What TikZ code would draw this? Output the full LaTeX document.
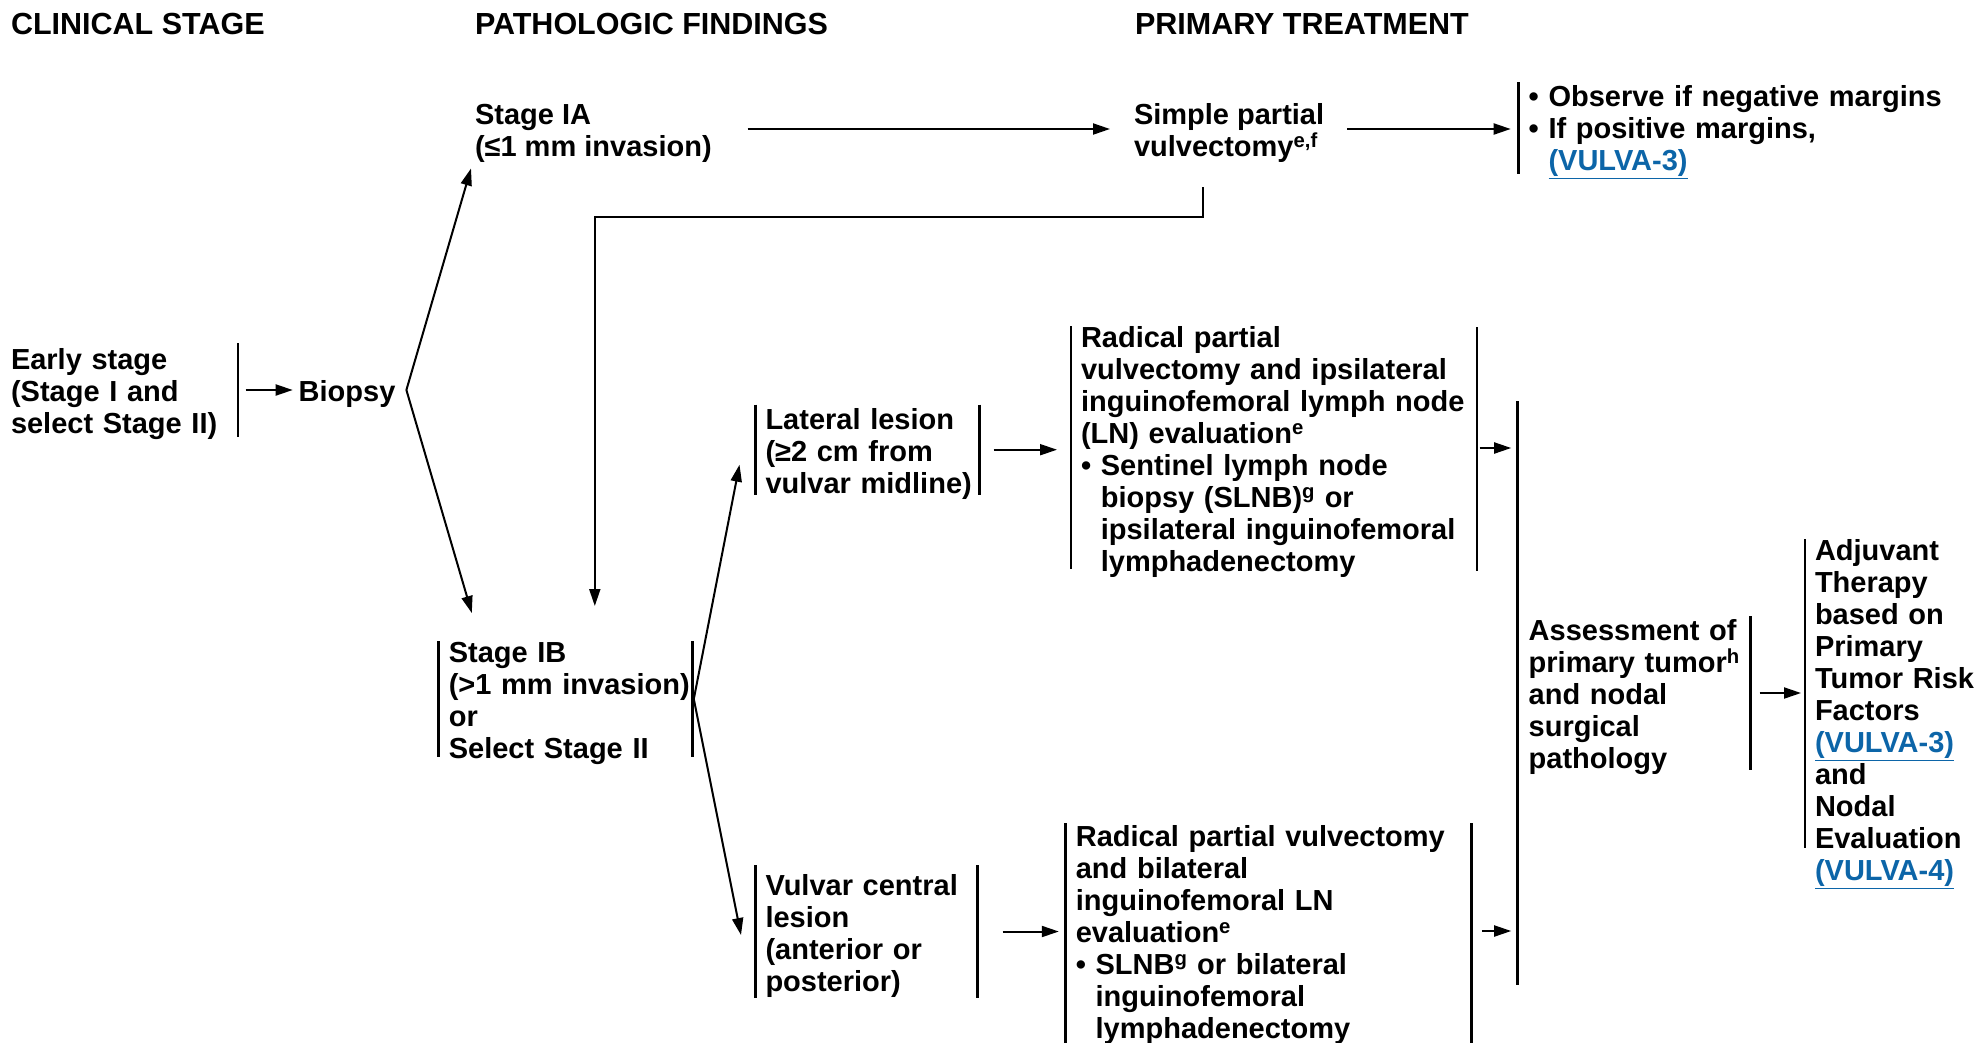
\documentclass[tikz,border=0pt]{standalone}
\usepackage{fontspec}
\setmainfont{Liberation Sans}
\usepackage{xcolor}
\usetikzlibrary{calc, arrows.meta}

\definecolor{linkblue}{RGB}{12,101,168}
\newcommand{\vlink}[1]{\textcolor{linkblue}{\underline{#1}}}
\newcommand{\ind}{\hphantom{•\ }}
\newcommand{\tstrut}{\rule{0pt}{29pt}}

\begin{document}
\begin{tikzpicture}[x=1pt, y=-1pt, line width=2pt,
		every node/.style={inner sep=0pt, align=left, anchor=west, font=\fontsize{29}{32}\selectfont\bfseries},
		head/.style={font=\fontsize{30.5}{32}\selectfont\bfseries},
		box/.style={text width=#1},
		bar/.style={line width=2.8pt}]

			\useasboundingbox (0,0) rectangle (1978,1042);

			\def\barGap{9pt}

			\newcommand{\drawLeftBar}[3]
			{
				\draw[bar] ([xshift=-\barGap,yshift=#2]#1.west) -- ([xshift=-\barGap,yshift=-#3]#1.west)
			}

			\newcommand{\drawRightBar}[3]
			{
				\draw[bar] ([yshift=#2]#1.east) -- ([yshift=-#3]#1.east)
			}

			\begin{scope}
				\node[head] (clinical) at (10,24) {CLINICAL STAGE};
				\node[head] (patho) at (474,24) {PATHOLOGIC FINDINGS};
				\node[head] (treat) at (1134,24) {PRIMARY TREATMENT};
			\end{scope}

			\begin{scope}
				\node[box=226pt] (early) at (10,390) {\tstrut Early stage\\(Stage I and\\select Stage II)};
				\node (biopsy) at (297.7,390) {\tstrut Biopsy};
				\node (ia) at (474,129) {\tstrut Stage IA\\(≤1 mm invasion)};
				\node (spv) at (1133,129) {\tstrut Simple partial\\vulvectomy\textsuperscript{e,f}};
				\node[box=440pt] (margins) at (1527.7,128) {\tstrut• Observe if negative margins\\• If positive margins,\\\ind\vlink{(VULVA-3)}};
				\node[box=243pt] (ib) at (447.8,699) {\tstrut Stage IB\\(>1 mm invasion)\\or\\Select Stage II};
				\node[box=213pt] (lateral) at (764.5,449.7) {\tstrut Lateral lesion\\(≥2 cm from\\vulvar midline)};
				\node[box=211pt] (central) at (764.5,931.5) {\tstrut Vulvar central\\lesion\\(anterior or\\posterior)};
				\node[box=395pt] (ipsi) at (1080,448) {\tstrut Radical partial\\vulvectomy and ipsilateral\\inguinofemoral lymph node\\(LN) evaluation\textsuperscript{e}\\• Sentinel lymph node\\\ind biopsy (SLNB)\textsuperscript{g} or\\\ind ipsilateral inguinofemoral\\\ind lymphadenectomy};
				\node[box=395pt] (bilat) at (1074.8,931) {\tstrut Radical partial vulvectomy\\and bilateral\\inguinofemoral LN\\evaluation\textsuperscript{e}\\• SLNB\textsuperscript{g} or bilateral\\\ind inguinofemoral\\\ind lymphadenectomy};
				\node[box=221pt] (assess) at (1527.7,693) {\tstrut Assessment of\\primary tumor\textsuperscript{h}\\and nodal\\surgical\\pathology};
				\node[box=170pt] (adjuvant) at (1814,710) {\tstrut Adjuvant\\Therapy\\based on\\Primary\\Tumor Risk\\Factors\\\vlink{(VULVA-3)}\\and\\Nodal\\Evaluation\\\vlink{(VULVA-4)}};
			\end{scope}

			\begin{scope}
				\drawRightBar{early}{47pt}{47pt};
				\drawLeftBar{margins}{46pt}{46pt};
				\drawLeftBar{ib}{58pt}{58pt};
				\drawRightBar{ib}{58pt}{58pt};
				\drawLeftBar{lateral}{45pt}{45pt};
				\drawRightBar{lateral}{45pt}{45pt};
				\drawLeftBar{central}{66.5pt}{66.5pt};
				\drawRightBar{central}{66.5pt}{66.5pt};
				\drawLeftBar{ipsi}{122pt}{121pt};
				\drawRightBar{ipsi}{121pt}{123pt};
				\drawLeftBar{bilat}{108pt}{115pt};
				\drawRightBar{bilat}{108pt}{115pt};
				\drawRightBar{assess}{77pt}{77pt};
				\coordinate (bigTop) at ([xshift=-10pt,yshift=292pt]assess.west);
				\coordinate (bigBot) at ([xshift=-10pt,yshift=-292pt]assess.west);
				\draw[bar] (bigTop) -- (bigBot);
				\coordinate (adjTop) at ([xshift=-9pt,yshift=171pt]adjuvant.west);
				\coordinate (adjBot) at ([xshift=-9pt,yshift=-138pt]adjuvant.west);
				\draw[bar] (adjTop) -- (adjBot);
			\end{scope}

			\begin{scope}[-{Triangle[length=17pt,width=11pt]}]
				\draw[shorten <=7.5pt, shorten >=5pt] (early.east) -- (biopsy.west);
				\coordinate (split) at ([xshift=10pt]biopsy.east);
				\coordinate (iaIn) at ([xshift=-3pt,yshift=-5pt]ia.south west);
				\coordinate (ibInA) at ([xshift=24pt,yshift=86pt]ib.west);
				\draw (split) -- (iaIn);
				\draw (split) -- (ibInA);
				\draw[shorten <=35pt, shorten >=23pt] (ia.east) -- (ia.east -| spv.west);
				\draw[shorten <=22pt, shorten >=17pt] (spv.east) -- (spv.east -| margins.west);
				\coordinate (dropTop) at (1203,187);
				\coordinate (ibInB) at ([xshift=147pt,yshift=93pt]ib.west);
				\draw (dropTop) -- ++(0,30) -| (ibInB);
				\coordinate (fork) at ([xshift=1pt]ib.east);
				\coordinate (latIn) at ([xshift=-25pt,yshift=-15pt]lateral.west);
				\coordinate (cenIn) at ([xshift=-23.5pt,yshift=-3.5pt]central.west);
				\draw (fork) -- (latIn);
				\draw (fork) -- (cenIn);
				\draw[shorten <=14pt, shorten >=23pt] (lateral.east) -- (lateral.east -| ipsi.west);
				\draw[shorten <=25pt, shorten >=16pt] (central.east) -- (central.east -| bilat.west);
				\draw[shorten <=2.5pt, shorten >=6.5pt] (ipsi.east) -- (ipsi.east -| bigTop);
				\draw[shorten <=10pt, shorten >=6.5pt] (bilat.east) -- (bilat.east -| bigTop);
				\draw[shorten <=9pt, shorten >=4pt] (assess.east) -- (assess.east -| adjTop);
			\end{scope}
		\end{tikzpicture}
\end{document}
